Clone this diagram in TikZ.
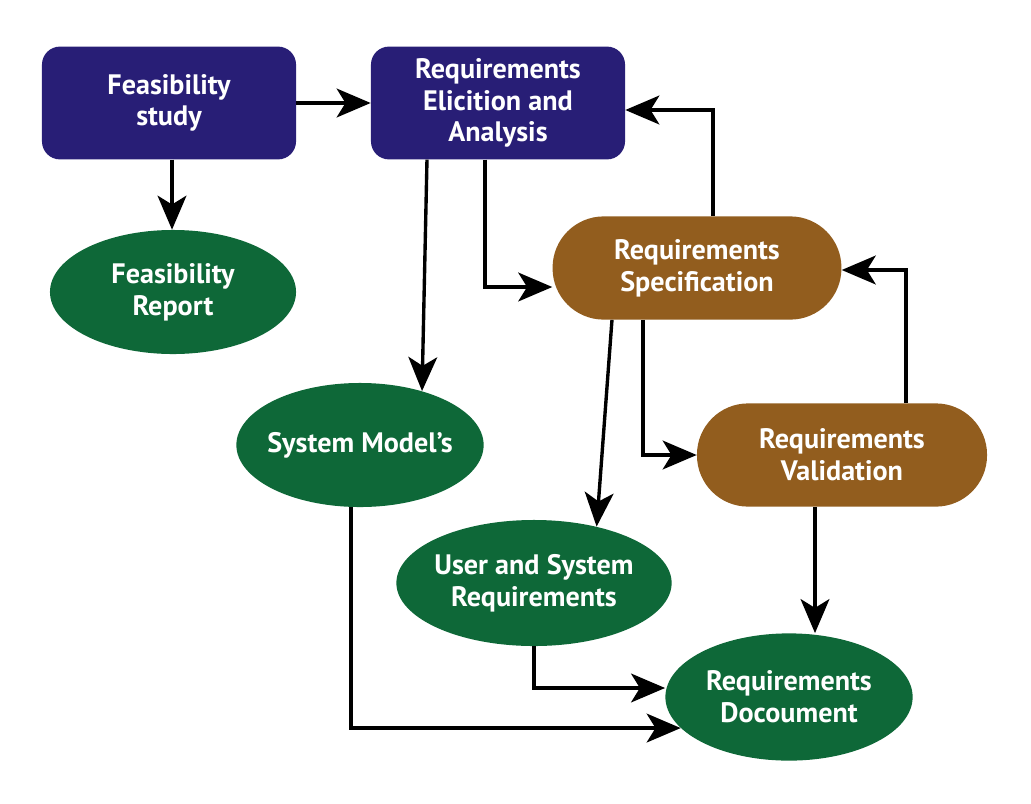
\documentclass[tikz,border=0pt]{standalone}
\usepackage{fontspec}
\setmainfont{PT Sans}
\usetikzlibrary{shapes.geometric,arrows.meta}
\definecolor{navy}{RGB}{40,30,118}
\definecolor{brownbox}{RGB}{146,93,30}
\definecolor{greenell}{RGB}{14,104,56}
\tikzset{
  txt/.style={text=white,font=\bfseries\fontsize{20}{22.5}\selectfont,align=center,inner sep=0pt},
  navybox/.style={txt,fill=navy,rounded corners=0.45cm,minimum width=6.35cm,minimum height=2.82cm},
  brownstad/.style={txt,fill=brownbox,rounded corners=1.28cm,minimum height=2.58cm},
  greenell/.style={txt,ellipse,fill=greenell,inner xsep=-0.5cm},
  arr/.style={line width=2.4pt,-{Stealth[length=0.85cm,width=0.72cm,inset=0.22cm]}}
}
\begin{document}
\begin{tikzpicture}[x=0.025cm,y=-0.025cm]
\useasboundingbox (0,0) rectangle (1031,803);
\node[navybox] (fs) at (169,103) {Feasibility\\study};
\node[navybox] (ea) at (498,103) {Requirements\\Elicition and\\Analysis};
\node[greenell,minimum width=6.15cm,minimum height=3.1cm] (fr) at (173,292) {Feasibility\\Report};
\node[brownstad,minimum width=7.22cm] (rs) at (697,268) {Requirements\\Specification};
\node[greenell,minimum width=6.18cm,minimum height=3.1cm] (sm) at (360,445) {System Model's};
\node[brownstad,minimum width=7.25cm] (rv) at (842,455) {Requirements\\Validation};
\node[greenell,minimum width=6.88cm,minimum height=3.15cm] (us) at (534,583) {User and System\\Requirements};
\node[greenell,minimum width=6.18cm,minimum height=3.18cm] (rd) at (789,697) {Requirements\\Docoument};

\draw[arr] (fs.east) -- (ea.west);
\draw[arr] ([xshift=0.075cm]fs.south) -- ([xshift=0.075cm]fs.south |- fr.north);
\draw[arr] ([xshift=-1.775cm]ea.south) -- (sm.41);
\draw[arr] ([xshift=-0.325cm]ea.south) |- ([yshift=-0.475cm]rs.west);
\draw[arr] ([xshift=0.4cm]rs.north) |- ([yshift=-0.175cm]ea.east);
\draw[arr] ([xshift=-2.125cm]rs.south) -- (us.42);
\draw[arr] ([xshift=-1.35cm]rs.south) |- (rv.west);
\draw[arr] ([xshift=1.6cm]rv.north) |- ([yshift=-0.05cm]rs.east);
\draw[arr] ([xshift=-0.675cm]rv.south) -- ([xshift=-0.675cm]rv.south |- rd.north);
\draw[arr] (us.south) |- ([yshift=0.225cm]rd.west);
\draw[arr] ([xshift=-0.225cm]sm.south) |- (rd.-164);
\end{tikzpicture}
\end{document}
